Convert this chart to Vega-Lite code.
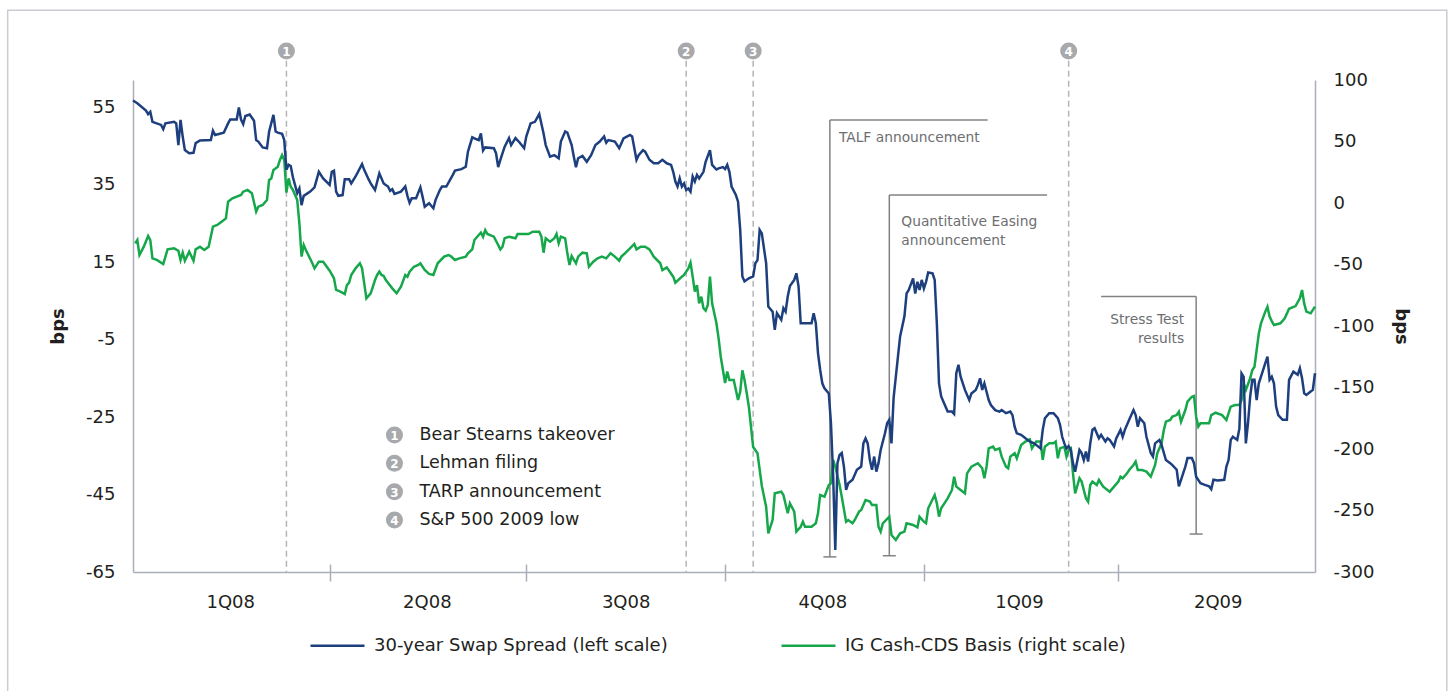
{
"$schema":"https://vega.github.io/schema/vega-lite/v6.json",
"width":1182,"height":492,
"autosize":{"type":"none"},
"padding":{"left":133,"top":80,"right":133,"bottom":119},
"background":"white",
"config":{"view":{"stroke":null},"font":"DejaVu Sans",
"axis":{"labelFont":"DejaVu Sans","labelFontSize":18,"labelColor":"#231f20","domainColor":"#a9afb8","domainWidth":1.5,"grid":false,"ticks":false,"titleFont":"DejaVu Sans","titleFontSize":18,"titleFontWeight":"bold","titleColor":"#231f20"},
"text":{"font":"DejaVu Sans"}},
"datasets":{
"events":[{"date":"2008-03-12","num":1,"label":"Bear Stearns takeover"},{"date":"2008-09-13","num":2,"label":"Lehman filing"},{"date":"2008-10-14","num":3,"label":"TARP announcement"},{"date":"2009-03-09","num":4,"label":"S&P 500 2009 low"}],
"swap":[{"date":"2008-01-01","value":56.7},{"date":"2008-01-03","value":56.0},{"date":"2008-01-07","value":54.1},{"date":"2008-01-08","value":53.2},{"date":"2008-01-09","value":53.8},{"date":"2008-01-10","value":51.2},{"date":"2008-01-11","value":51.0},{"date":"2008-01-14","value":50.4},{"date":"2008-01-15","value":49.3},{"date":"2008-01-16","value":50.8},{"date":"2008-01-20","value":51.2},{"date":"2008-01-21","value":50.8},{"date":"2008-01-22","value":45.2},{"date":"2008-01-23","value":51.7},{"date":"2008-01-24","value":47.4},{"date":"2008-01-25","value":43.9},{"date":"2008-01-27","value":43.1},{"date":"2008-01-29","value":43.2},{"date":"2008-01-30","value":45.7},{"date":"2008-02-01","value":46.4},{"date":"2008-02-06","value":46.5},{"date":"2008-02-07","value":48.9},{"date":"2008-02-08","value":47.8},{"date":"2008-02-12","value":48.4},{"date":"2008-02-14","value":50.8},{"date":"2008-02-15","value":51.8},{"date":"2008-02-18","value":51.8},{"date":"2008-02-19","value":54.9},{"date":"2008-02-20","value":51.8},{"date":"2008-02-21","value":50.6},{"date":"2008-02-22","value":52.7},{"date":"2008-02-24","value":53.1},{"date":"2008-02-26","value":51.5},{"date":"2008-02-27","value":46.5},{"date":"2008-02-28","value":46.1},{"date":"2008-03-01","value":44.6},{"date":"2008-03-03","value":44.4},{"date":"2008-03-04","value":48.7},{"date":"2008-03-06","value":53.0},{"date":"2008-03-07","value":48.7},{"date":"2008-03-08","value":48.4},{"date":"2008-03-10","value":48.1},{"date":"2008-03-11","value":46.5},{"date":"2008-03-12","value":38.8},{"date":"2008-03-13","value":40.1},{"date":"2008-03-14","value":39.8},{"date":"2008-03-15","value":36.9},{"date":"2008-03-17","value":32.8},{"date":"2008-03-18","value":34.0},{"date":"2008-03-19","value":29.7},{"date":"2008-03-20","value":32.1},{"date":"2008-03-23","value":33.2},{"date":"2008-03-25","value":34.3},{"date":"2008-03-27","value":38.3},{"date":"2008-03-29","value":36.6},{"date":"2008-04-01","value":34.9},{"date":"2008-04-02","value":38.3},{"date":"2008-04-03","value":38.6},{"date":"2008-04-04","value":33.2},{"date":"2008-04-05","value":32.1},{"date":"2008-04-07","value":32.3},{"date":"2008-04-08","value":36.4},{"date":"2008-04-10","value":36.4},{"date":"2008-04-11","value":35.3},{"date":"2008-04-13","value":37.1},{"date":"2008-04-16","value":40.3},{"date":"2008-04-17","value":38.8},{"date":"2008-04-19","value":36.4},{"date":"2008-04-20","value":35.3},{"date":"2008-04-22","value":33.6},{"date":"2008-04-24","value":37.9},{"date":"2008-04-26","value":35.3},{"date":"2008-04-28","value":34.5},{"date":"2008-04-29","value":33.4},{"date":"2008-04-30","value":33.8},{"date":"2008-05-01","value":32.6},{"date":"2008-05-04","value":33.2},{"date":"2008-05-06","value":34.5},{"date":"2008-05-07","value":32.1},{"date":"2008-05-08","value":30.3},{"date":"2008-05-09","value":31.5},{"date":"2008-05-11","value":31.5},{"date":"2008-05-13","value":34.3},{"date":"2008-05-14","value":31.9},{"date":"2008-05-15","value":29.3},{"date":"2008-05-17","value":30.2},{"date":"2008-05-19","value":28.9},{"date":"2008-05-20","value":31.0},{"date":"2008-05-22","value":33.6},{"date":"2008-05-23","value":34.5},{"date":"2008-05-25","value":34.5},{"date":"2008-05-28","value":37.5},{"date":"2008-05-29","value":38.6},{"date":"2008-06-01","value":39.0},{"date":"2008-06-03","value":39.6},{"date":"2008-06-04","value":43.5},{"date":"2008-06-06","value":47.2},{"date":"2008-06-08","value":46.7},{"date":"2008-06-09","value":46.5},{"date":"2008-06-10","value":48.2},{"date":"2008-06-11","value":43.8},{"date":"2008-06-12","value":44.6},{"date":"2008-06-16","value":44.4},{"date":"2008-06-17","value":43.1},{"date":"2008-06-18","value":39.5},{"date":"2008-06-19","value":41.4},{"date":"2008-06-21","value":44.8},{"date":"2008-06-23","value":47.0},{"date":"2008-06-24","value":45.2},{"date":"2008-06-26","value":47.0},{"date":"2008-06-28","value":45.8},{"date":"2008-06-30","value":44.4},{"date":"2008-07-01","value":47.4},{"date":"2008-07-03","value":50.8},{"date":"2008-07-05","value":51.2},{"date":"2008-07-07","value":53.2},{"date":"2008-07-09","value":48.2},{"date":"2008-07-10","value":45.2},{"date":"2008-07-12","value":42.2},{"date":"2008-07-14","value":42.6},{"date":"2008-07-16","value":41.8},{"date":"2008-07-17","value":46.1},{"date":"2008-07-19","value":48.7},{"date":"2008-07-20","value":48.4},{"date":"2008-07-22","value":45.2},{"date":"2008-07-23","value":42.2},{"date":"2008-07-24","value":39.5},{"date":"2008-07-25","value":41.8},{"date":"2008-07-27","value":42.4},{"date":"2008-07-29","value":40.9},{"date":"2008-07-31","value":42.6},{"date":"2008-08-02","value":45.2},{"date":"2008-08-04","value":46.1},{"date":"2008-08-06","value":47.4},{"date":"2008-08-07","value":45.8},{"date":"2008-08-08","value":46.5},{"date":"2008-08-11","value":46.1},{"date":"2008-08-13","value":44.4},{"date":"2008-08-15","value":46.9},{"date":"2008-08-18","value":47.8},{"date":"2008-08-19","value":47.4},{"date":"2008-08-21","value":41.4},{"date":"2008-08-22","value":42.6},{"date":"2008-08-24","value":43.9},{"date":"2008-08-25","value":43.5},{"date":"2008-08-27","value":41.4},{"date":"2008-08-29","value":40.5},{"date":"2008-08-31","value":40.5},{"date":"2008-09-02","value":41.4},{"date":"2008-09-04","value":40.5},{"date":"2008-09-06","value":40.1},{"date":"2008-09-07","value":38.3},{"date":"2008-09-08","value":35.8},{"date":"2008-09-09","value":34.5},{"date":"2008-09-10","value":36.6},{"date":"2008-09-11","value":34.5},{"date":"2008-09-12","value":35.3},{"date":"2008-09-13","value":33.6},{"date":"2008-09-14","value":34.0},{"date":"2008-09-15","value":33.2},{"date":"2008-09-16","value":37.1},{"date":"2008-09-17","value":35.8},{"date":"2008-09-18","value":37.5},{"date":"2008-09-19","value":36.6},{"date":"2008-09-21","value":38.3},{"date":"2008-09-22","value":40.9},{"date":"2008-09-24","value":43.9},{"date":"2008-09-25","value":40.1},{"date":"2008-09-27","value":38.9},{"date":"2008-09-28","value":39.2},{"date":"2008-09-30","value":39.5},{"date":"2008-10-01","value":39.0},{"date":"2008-10-02","value":40.1},{"date":"2008-10-03","value":38.3},{"date":"2008-10-04","value":34.5},{"date":"2008-10-06","value":32.3},{"date":"2008-10-07","value":30.6},{"date":"2008-10-08","value":23.3},{"date":"2008-10-09","value":11.3},{"date":"2008-10-10","value":10.0},{"date":"2008-10-12","value":10.8},{"date":"2008-10-14","value":11.3},{"date":"2008-10-15","value":14.7},{"date":"2008-10-16","value":15.5},{"date":"2008-10-17","value":23.3},{"date":"2008-10-18","value":22.4},{"date":"2008-10-20","value":14.7},{"date":"2008-10-21","value":3.5},{"date":"2008-10-23","value":2.2},{"date":"2008-10-24","value":-2.5},{"date":"2008-10-25","value":1.8},{"date":"2008-10-27","value":0.1},{"date":"2008-10-28","value":3.1},{"date":"2008-10-29","value":2.2},{"date":"2008-10-30","value":6.1},{"date":"2008-10-31","value":8.8},{"date":"2008-11-02","value":10.4},{"date":"2008-11-03","value":12.1},{"date":"2008-11-04","value":8.7},{"date":"2008-11-05","value":-0.8},{"date":"2008-11-08","value":-0.8},{"date":"2008-11-10","value":-0.8},{"date":"2008-11-11","value":1.8},{"date":"2008-11-12","value":-0.8},{"date":"2008-11-13","value":-8.5},{"date":"2008-11-14","value":-12.8},{"date":"2008-11-15","value":-16.3},{"date":"2008-11-16","value":-17.6},{"date":"2008-11-18","value":-18.9},{"date":"2008-11-19","value":-26.6},{"date":"2008-11-20","value":-40.0},{"date":"2008-11-21","value":-59.3},{"date":"2008-11-22","value":-36.9},{"date":"2008-11-23","value":-34.8},{"date":"2008-11-24","value":-34.3},{"date":"2008-11-25","value":-37.8},{"date":"2008-11-26","value":-43.8},{"date":"2008-11-27","value":-42.1},{"date":"2008-11-29","value":-41.2},{"date":"2008-12-01","value":-38.6},{"date":"2008-12-03","value":-37.8},{"date":"2008-12-04","value":-31.8},{"date":"2008-12-05","value":-30.5},{"date":"2008-12-06","value":-31.8},{"date":"2008-12-07","value":-36.1},{"date":"2008-12-08","value":-38.6},{"date":"2008-12-09","value":-35.2},{"date":"2008-12-10","value":-39.1},{"date":"2008-12-11","value":-36.9},{"date":"2008-12-12","value":-33.5},{"date":"2008-12-14","value":-29.2},{"date":"2008-12-15","value":-26.6},{"date":"2008-12-16","value":-25.7},{"date":"2008-12-17","value":-31.8},{"date":"2008-12-18","value":-20.0},{"date":"2008-12-20","value":-9.4},{"date":"2008-12-21","value":-4.2},{"date":"2008-12-23","value":1.0},{"date":"2008-12-24","value":6.9},{"date":"2008-12-25","value":7.8},{"date":"2008-12-27","value":10.8},{"date":"2008-12-28","value":6.9},{"date":"2008-12-29","value":9.9},{"date":"2008-12-30","value":7.8},{"date":"2008-12-31","value":10.4},{"date":"2009-01-01","value":8.2},{"date":"2009-01-02","value":9.9},{"date":"2009-01-03","value":12.3},{"date":"2009-01-05","value":12.1},{"date":"2009-01-06","value":10.4},{"date":"2009-01-07","value":-0.8},{"date":"2009-01-08","value":-16.3},{"date":"2009-01-09","value":-19.7},{"date":"2009-01-11","value":-22.3},{"date":"2009-01-12","value":-23.6},{"date":"2009-01-14","value":-23.6},{"date":"2009-01-15","value":-24.2},{"date":"2009-01-16","value":-13.7},{"date":"2009-01-17","value":-11.5},{"date":"2009-01-18","value":-14.6},{"date":"2009-01-20","value":-18.0},{"date":"2009-01-22","value":-20.6},{"date":"2009-01-23","value":-18.9},{"date":"2009-01-25","value":-18.0},{"date":"2009-01-26","value":-16.7},{"date":"2009-01-27","value":-15.0},{"date":"2009-01-28","value":-18.0},{"date":"2009-01-29","value":-16.3},{"date":"2009-01-31","value":-20.6},{"date":"2009-02-01","value":-21.9},{"date":"2009-02-03","value":-23.2},{"date":"2009-02-05","value":-23.6},{"date":"2009-02-06","value":-23.2},{"date":"2009-02-08","value":-24.0},{"date":"2009-02-10","value":-23.6},{"date":"2009-02-11","value":-24.5},{"date":"2009-02-12","value":-27.5},{"date":"2009-02-13","value":-29.2},{"date":"2009-02-15","value":-29.6},{"date":"2009-02-17","value":-30.5},{"date":"2009-02-19","value":-31.3},{"date":"2009-02-21","value":-31.8},{"date":"2009-02-24","value":-33.1},{"date":"2009-02-25","value":-28.3},{"date":"2009-02-26","value":-25.3},{"date":"2009-02-28","value":-24.0},{"date":"2009-03-02","value":-24.0},{"date":"2009-03-04","value":-25.3},{"date":"2009-03-05","value":-27.0},{"date":"2009-03-06","value":-30.1},{"date":"2009-03-07","value":-31.8},{"date":"2009-03-08","value":-33.1},{"date":"2009-03-09","value":-32.5},{"date":"2009-03-10","value":-33.5},{"date":"2009-03-11","value":-36.9},{"date":"2009-03-12","value":-39.1},{"date":"2009-03-14","value":-33.5},{"date":"2009-03-15","value":-34.3},{"date":"2009-03-16","value":-36.1},{"date":"2009-03-17","value":-33.9},{"date":"2009-03-18","value":-36.5},{"date":"2009-03-19","value":-31.8},{"date":"2009-03-20","value":-28.3},{"date":"2009-03-21","value":-27.9},{"date":"2009-03-23","value":-30.5},{"date":"2009-03-24","value":-29.6},{"date":"2009-03-26","value":-31.3},{"date":"2009-03-27","value":-30.5},{"date":"2009-03-28","value":-30.9},{"date":"2009-03-30","value":-32.6},{"date":"2009-03-31","value":-30.5},{"date":"2009-04-02","value":-28.3},{"date":"2009-04-03","value":-30.1},{"date":"2009-04-04","value":-28.3},{"date":"2009-04-06","value":-25.7},{"date":"2009-04-08","value":-23.2},{"date":"2009-04-09","value":-24.5},{"date":"2009-04-10","value":-27.5},{"date":"2009-04-11","value":-25.3},{"date":"2009-04-13","value":-26.6},{"date":"2009-04-14","value":-30.1},{"date":"2009-04-16","value":-34.3},{"date":"2009-04-17","value":-35.2},{"date":"2009-04-18","value":-31.8},{"date":"2009-04-20","value":-30.9},{"date":"2009-04-21","value":-32.2},{"date":"2009-04-23","value":-36.1},{"date":"2009-04-25","value":-36.9},{"date":"2009-04-26","value":-37.4},{"date":"2009-04-28","value":-38.6},{"date":"2009-04-29","value":-42.9},{"date":"2009-04-30","value":-41.2},{"date":"2009-05-02","value":-37.8},{"date":"2009-05-03","value":-35.6},{"date":"2009-05-05","value":-35.6},{"date":"2009-05-06","value":-36.9},{"date":"2009-05-07","value":-40.4},{"date":"2009-05-09","value":-42.1},{"date":"2009-05-11","value":-42.5},{"date":"2009-05-13","value":-42.9},{"date":"2009-05-14","value":-43.6},{"date":"2009-05-15","value":-41.2},{"date":"2009-05-17","value":-41.4},{"date":"2009-05-20","value":-41.2},{"date":"2009-05-21","value":-37.8},{"date":"2009-05-22","value":-36.1},{"date":"2009-05-23","value":-30.9},{"date":"2009-05-24","value":-30.1},{"date":"2009-05-26","value":-30.9},{"date":"2009-05-27","value":-28.0},{"date":"2009-05-28","value":-13.7},{"date":"2009-05-29","value":-14.6},{"date":"2009-05-30","value":-31.8},{"date":"2009-05-31","value":-26.6},{"date":"2009-06-01","value":-19.7},{"date":"2009-06-02","value":-15.4},{"date":"2009-06-03","value":-15.4},{"date":"2009-06-04","value":-20.6},{"date":"2009-06-05","value":-16.3},{"date":"2009-06-07","value":-12.8},{"date":"2009-06-08","value":-11.1},{"date":"2009-06-09","value":-9.4},{"date":"2009-06-10","value":-15.4},{"date":"2009-06-11","value":-14.6},{"date":"2009-06-12","value":-16.3},{"date":"2009-06-13","value":-22.3},{"date":"2009-06-14","value":-24.5},{"date":"2009-06-16","value":-25.7},{"date":"2009-06-18","value":-25.7},{"date":"2009-06-19","value":-15.4},{"date":"2009-06-21","value":-13.3},{"date":"2009-06-23","value":-14.1},{"date":"2009-06-24","value":-12.4},{"date":"2009-06-25","value":-15.0},{"date":"2009-06-26","value":-18.9},{"date":"2009-06-27","value":-19.3},{"date":"2009-06-29","value":-18.4},{"date":"2009-06-30","value":-18.0},{"date":"2009-07-01","value":-13.7}],
"basis":[{"date":"2008-01-02","value":-32.8},{"date":"2008-01-03","value":-30.1},{"date":"2008-01-04","value":-42.3},{"date":"2008-01-06","value":-35.5},{"date":"2008-01-08","value":-26.8},{"date":"2008-01-09","value":-30.1},{"date":"2008-01-10","value":-45.0},{"date":"2008-01-12","value":-46.3},{"date":"2008-01-15","value":-49.6},{"date":"2008-01-17","value":-37.7},{"date":"2008-01-20","value":-36.9},{"date":"2008-01-22","value":-38.8},{"date":"2008-01-23","value":-46.3},{"date":"2008-01-24","value":-40.4},{"date":"2008-01-25","value":-46.9},{"date":"2008-01-27","value":-39.6},{"date":"2008-01-29","value":-46.9},{"date":"2008-01-30","value":-37.7},{"date":"2008-02-01","value":-35.5},{"date":"2008-02-03","value":-38.2},{"date":"2008-02-05","value":-35.5},{"date":"2008-02-07","value":-19.2},{"date":"2008-02-09","value":-17.9},{"date":"2008-02-11","value":-15.2},{"date":"2008-02-13","value":-12.5},{"date":"2008-02-14","value":1.1},{"date":"2008-02-16","value":3.8},{"date":"2008-02-20","value":6.5},{"date":"2008-02-21","value":9.2},{"date":"2008-02-23","value":10.6},{"date":"2008-02-25","value":7.9},{"date":"2008-02-27","value":-7.0},{"date":"2008-02-28","value":-3.0},{"date":"2008-03-01","value":-1.6},{"date":"2008-03-03","value":2.4},{"date":"2008-03-04","value":18.7},{"date":"2008-03-05","value":20.0},{"date":"2008-03-06","value":26.8},{"date":"2008-03-08","value":29.5},{"date":"2008-03-09","value":35.0},{"date":"2008-03-10","value":39.0},{"date":"2008-03-11","value":35.0},{"date":"2008-03-12","value":8.5},{"date":"2008-03-13","value":20.0},{"date":"2008-03-14","value":13.3},{"date":"2008-03-15","value":10.6},{"date":"2008-03-17","value":2.4},{"date":"2008-03-18","value":-16.5},{"date":"2008-03-19","value":-43.6},{"date":"2008-03-20","value":-34.1},{"date":"2008-03-21","value":-38.2},{"date":"2008-03-24","value":-49.0},{"date":"2008-03-25","value":-53.1},{"date":"2008-03-27","value":-47.7},{"date":"2008-03-29","value":-47.7},{"date":"2008-04-01","value":-55.0},{"date":"2008-04-02","value":-58.0},{"date":"2008-04-03","value":-61.2},{"date":"2008-04-04","value":-70.7},{"date":"2008-04-06","value":-72.1},{"date":"2008-04-08","value":-74.0},{"date":"2008-04-09","value":-66.7},{"date":"2008-04-10","value":-64.8},{"date":"2008-04-11","value":-58.5},{"date":"2008-04-13","value":-53.1},{"date":"2008-04-15","value":-49.0},{"date":"2008-04-16","value":-53.1},{"date":"2008-04-17","value":-65.3},{"date":"2008-04-18","value":-77.5},{"date":"2008-04-20","value":-73.4},{"date":"2008-04-22","value":-62.6},{"date":"2008-04-23","value":-58.5},{"date":"2008-04-24","value":-55.8},{"date":"2008-04-25","value":-58.5},{"date":"2008-04-26","value":-59.3},{"date":"2008-04-27","value":-62.6},{"date":"2008-04-30","value":-69.4},{"date":"2008-05-02","value":-73.4},{"date":"2008-05-04","value":-68.0},{"date":"2008-05-06","value":-58.5},{"date":"2008-05-07","value":-59.9},{"date":"2008-05-08","value":-55.8},{"date":"2008-05-10","value":-51.8},{"date":"2008-05-12","value":-50.4},{"date":"2008-05-13","value":-49.0},{"date":"2008-05-15","value":-54.5},{"date":"2008-05-17","value":-57.7},{"date":"2008-05-19","value":-58.5},{"date":"2008-05-21","value":-49.0},{"date":"2008-05-24","value":-43.6},{"date":"2008-05-26","value":-42.3},{"date":"2008-05-27","value":-43.1},{"date":"2008-05-29","value":-46.3},{"date":"2008-05-31","value":-45.0},{"date":"2008-06-03","value":-43.6},{"date":"2008-06-04","value":-40.9},{"date":"2008-06-06","value":-37.7},{"date":"2008-06-07","value":-30.1},{"date":"2008-06-09","value":-26.0},{"date":"2008-06-10","value":-24.1},{"date":"2008-06-11","value":-27.4},{"date":"2008-06-12","value":-22.0},{"date":"2008-06-13","value":-25.2},{"date":"2008-06-16","value":-27.4},{"date":"2008-06-18","value":-34.1},{"date":"2008-06-19","value":-37.7},{"date":"2008-06-20","value":-35.5},{"date":"2008-06-21","value":-28.7},{"date":"2008-06-23","value":-27.4},{"date":"2008-06-26","value":-28.7},{"date":"2008-06-27","value":-25.2},{"date":"2008-06-30","value":-25.2},{"date":"2008-07-02","value":-25.2},{"date":"2008-07-04","value":-23.3},{"date":"2008-07-07","value":-23.3},{"date":"2008-07-08","value":-27.4},{"date":"2008-07-09","value":-40.4},{"date":"2008-07-10","value":-28.7},{"date":"2008-07-12","value":-31.4},{"date":"2008-07-14","value":-28.7},{"date":"2008-07-15","value":-25.2},{"date":"2008-07-16","value":-32.8},{"date":"2008-07-17","value":-27.4},{"date":"2008-07-19","value":-28.7},{"date":"2008-07-20","value":-40.9},{"date":"2008-07-21","value":-50.4},{"date":"2008-07-22","value":-43.1},{"date":"2008-07-24","value":-49.0},{"date":"2008-07-25","value":-43.6},{"date":"2008-07-27","value":-40.4},{"date":"2008-07-29","value":-40.9},{"date":"2008-07-30","value":-51.8},{"date":"2008-08-01","value":-47.7},{"date":"2008-08-03","value":-45.0},{"date":"2008-08-05","value":-43.6},{"date":"2008-08-07","value":-45.0},{"date":"2008-08-09","value":-40.9},{"date":"2008-08-11","value":-43.6},{"date":"2008-08-13","value":-46.9},{"date":"2008-08-14","value":-43.6},{"date":"2008-08-16","value":-40.4},{"date":"2008-08-18","value":-36.9},{"date":"2008-08-20","value":-33.3},{"date":"2008-08-21","value":-37.7},{"date":"2008-08-23","value":-35.5},{"date":"2008-08-25","value":-35.5},{"date":"2008-08-27","value":-37.7},{"date":"2008-08-29","value":-43.6},{"date":"2008-09-01","value":-49.0},{"date":"2008-09-02","value":-54.5},{"date":"2008-09-04","value":-52.3},{"date":"2008-09-07","value":-59.9},{"date":"2008-09-08","value":-64.8},{"date":"2008-09-11","value":-59.9},{"date":"2008-09-12","value":-58.5},{"date":"2008-09-14","value":-53.1},{"date":"2008-09-15","value":-48.5},{"date":"2008-09-16","value":-59.9},{"date":"2008-09-17","value":-72.1},{"date":"2008-09-18","value":-66.7},{"date":"2008-09-19","value":-81.6},{"date":"2008-09-20","value":-76.2},{"date":"2008-09-21","value":-85.6},{"date":"2008-09-22","value":-87.5},{"date":"2008-09-23","value":-82.9},{"date":"2008-09-24","value":-59.9},{"date":"2008-09-25","value":-81.6},{"date":"2008-09-27","value":-97.8},{"date":"2008-09-28","value":-110.0},{"date":"2008-09-29","value":-125.0},{"date":"2008-10-01","value":-146.3},{"date":"2008-10-02","value":-137.0},{"date":"2008-10-03","value":-143.9},{"date":"2008-10-05","value":-143.9},{"date":"2008-10-07","value":-160.2},{"date":"2008-10-08","value":-153.4},{"date":"2008-10-09","value":-136.0},{"date":"2008-10-10","value":-143.9},{"date":"2008-10-11","value":-154.5},{"date":"2008-10-12","value":-165.6},{"date":"2008-10-14","value":-198.4},{"date":"2008-10-16","value":-203.5},{"date":"2008-10-18","value":-230.0},{"date":"2008-10-20","value":-246.9},{"date":"2008-10-21","value":-268.6},{"date":"2008-10-23","value":-257.7},{"date":"2008-10-24","value":-236.0},{"date":"2008-10-27","value":-234.7},{"date":"2008-10-28","value":-237.4},{"date":"2008-10-30","value":-252.3},{"date":"2008-10-31","value":-244.2},{"date":"2008-11-02","value":-250.9},{"date":"2008-11-03","value":-267.2},{"date":"2008-11-05","value":-263.2},{"date":"2008-11-06","value":-259.1},{"date":"2008-11-07","value":-263.2},{"date":"2008-11-10","value":-263.2},{"date":"2008-11-12","value":-260.4},{"date":"2008-11-13","value":-252.3},{"date":"2008-11-14","value":-237.4},{"date":"2008-11-16","value":-238.8},{"date":"2008-11-18","value":-229.3},{"date":"2008-11-19","value":-227.9},{"date":"2008-11-20","value":-208.9},{"date":"2008-11-21","value":-214.4},{"date":"2008-11-23","value":-229.3},{"date":"2008-11-24","value":-238.8},{"date":"2008-11-26","value":-259.1},{"date":"2008-11-27","value":-257.7},{"date":"2008-11-29","value":-260.4},{"date":"2008-11-30","value":-257.7},{"date":"2008-12-02","value":-250.9},{"date":"2008-12-03","value":-249.6},{"date":"2008-12-05","value":-241.5},{"date":"2008-12-07","value":-242.8},{"date":"2008-12-08","value":-245.5},{"date":"2008-12-10","value":-245.5},{"date":"2008-12-11","value":-263.2},{"date":"2008-12-12","value":-267.2},{"date":"2008-12-13","value":-260.4},{"date":"2008-12-16","value":-255.0},{"date":"2008-12-17","value":-269.9},{"date":"2008-12-19","value":-274.0},{"date":"2008-12-21","value":-268.6},{"date":"2008-12-23","value":-267.2},{"date":"2008-12-24","value":-260.4},{"date":"2008-12-27","value":-261.8},{"date":"2008-12-29","value":-263.7},{"date":"2008-12-30","value":-255.0},{"date":"2009-01-01","value":-259.1},{"date":"2009-01-02","value":-260.4},{"date":"2009-01-03","value":-248.2},{"date":"2009-01-06","value":-237.4},{"date":"2009-01-07","value":-244.2},{"date":"2009-01-08","value":-255.0},{"date":"2009-01-09","value":-248.2},{"date":"2009-01-12","value":-240.1},{"date":"2009-01-14","value":-233.3},{"date":"2009-01-15","value":-222.5},{"date":"2009-01-16","value":-230.6},{"date":"2009-01-18","value":-233.3},{"date":"2009-01-20","value":-236.0},{"date":"2009-01-21","value":-219.8},{"date":"2009-01-23","value":-214.4},{"date":"2009-01-26","value":-211.6},{"date":"2009-01-28","value":-215.7},{"date":"2009-01-29","value":-223.8},{"date":"2009-01-30","value":-214.4},{"date":"2009-01-31","value":-199.5},{"date":"2009-02-02","value":-198.1},{"date":"2009-02-03","value":-200.8},{"date":"2009-02-05","value":-199.5},{"date":"2009-02-06","value":-206.2},{"date":"2009-02-08","value":-214.4},{"date":"2009-02-09","value":-215.7},{"date":"2009-02-10","value":-206.2},{"date":"2009-02-12","value":-203.5},{"date":"2009-02-13","value":-207.6},{"date":"2009-02-14","value":-202.2},{"date":"2009-02-15","value":-196.8},{"date":"2009-02-17","value":-194.0},{"date":"2009-02-19","value":-192.1},{"date":"2009-02-20","value":-199.5},{"date":"2009-02-22","value":-194.0},{"date":"2009-02-24","value":-194.0},{"date":"2009-02-25","value":-208.9},{"date":"2009-02-26","value":-198.1},{"date":"2009-02-28","value":-195.4},{"date":"2009-03-02","value":-195.4},{"date":"2009-03-03","value":-194.0},{"date":"2009-03-04","value":-207.6},{"date":"2009-03-05","value":-199.5},{"date":"2009-03-07","value":-198.1},{"date":"2009-03-08","value":-206.2},{"date":"2009-03-09","value":-200.8},{"date":"2009-03-10","value":-199.5},{"date":"2009-03-11","value":-219.8},{"date":"2009-03-12","value":-236.0},{"date":"2009-03-14","value":-223.8},{"date":"2009-03-15","value":-226.5},{"date":"2009-03-17","value":-240.1},{"date":"2009-03-18","value":-242.8},{"date":"2009-03-19","value":-229.3},{"date":"2009-03-20","value":-226.5},{"date":"2009-03-22","value":-229.3},{"date":"2009-03-23","value":-225.2},{"date":"2009-03-25","value":-230.6},{"date":"2009-03-28","value":-234.7},{"date":"2009-03-30","value":-230.6},{"date":"2009-04-01","value":-226.5},{"date":"2009-04-02","value":-222.5},{"date":"2009-04-03","value":-223.8},{"date":"2009-04-05","value":-219.8},{"date":"2009-04-06","value":-217.1},{"date":"2009-04-08","value":-213.0},{"date":"2009-04-09","value":-210.3},{"date":"2009-04-10","value":-217.1},{"date":"2009-04-12","value":-217.1},{"date":"2009-04-14","value":-218.4},{"date":"2009-04-16","value":-222.5},{"date":"2009-04-18","value":-213.0},{"date":"2009-04-19","value":-203.5},{"date":"2009-04-21","value":-195.4},{"date":"2009-04-22","value":-185.0},{"date":"2009-04-23","value":-177.8},{"date":"2009-04-25","value":-176.4},{"date":"2009-04-26","value":-173.7},{"date":"2009-04-28","value":-172.4},{"date":"2009-04-29","value":-169.7},{"date":"2009-04-30","value":-177.8},{"date":"2009-05-02","value":-168.3},{"date":"2009-05-03","value":-161.5},{"date":"2009-05-05","value":-157.5},{"date":"2009-05-06","value":-156.9},{"date":"2009-05-07","value":-173.7},{"date":"2009-05-08","value":-181.8},{"date":"2009-05-09","value":-179.1},{"date":"2009-05-11","value":-179.1},{"date":"2009-05-13","value":-179.1},{"date":"2009-05-14","value":-172.4},{"date":"2009-05-16","value":-170.5},{"date":"2009-05-19","value":-172.4},{"date":"2009-05-21","value":-176.4},{"date":"2009-05-23","value":-165.6},{"date":"2009-05-25","value":-164.2},{"date":"2009-05-27","value":-164.2},{"date":"2009-05-28","value":-160.2},{"date":"2009-05-29","value":-146.6},{"date":"2009-05-30","value":-152.0},{"date":"2009-06-01","value":-142.5},{"date":"2009-06-02","value":-135.8},{"date":"2009-06-03","value":-133.1},{"date":"2009-06-04","value":-119.5},{"date":"2009-06-05","value":-106.0},{"date":"2009-06-06","value":-97.8},{"date":"2009-06-08","value":-88.3},{"date":"2009-06-09","value":-84.3},{"date":"2009-06-10","value":-92.4},{"date":"2009-06-11","value":-96.0},{"date":"2009-06-12","value":-99.2},{"date":"2009-06-15","value":-97.8},{"date":"2009-06-17","value":-93.8},{"date":"2009-06-19","value":-86.0},{"date":"2009-06-22","value":-83.8},{"date":"2009-06-24","value":-77.5},{"date":"2009-06-25","value":-70.7},{"date":"2009-06-26","value":-81.6},{"date":"2009-06-27","value":-88.3},{"date":"2009-06-29","value":-89.7},{"date":"2009-07-01","value":-84.3}]
},
"layer":[
{"data":{"values":[{"part":"frame"}]},"mark":{"type":"rect","fillOpacity":0,"stroke":"#c9cdd3","strokeWidth":1.5},
 "encoding":{"x":{"datum":{"year":2007,"month":11,"date":4},"type":"temporal","axis":null},"x2":{"datum":{"year":2009,"month":8,"date":31}},
 "y":{"datum":80,"type":"quantitative","scale":{"domain":[-65,62]},"axis":null},"y2":{"datum":-120}}},
{"data":{"name":"events"},"mark":{"type":"rule","color":"#b3b5b8","strokeWidth":1.5,"strokeDash":[6,4]},
 "encoding":{"x":{"field":"date","type":"temporal","axis":null},"y":{"datum":67,"type":"quantitative","scale":{"domain":[-65,62]},"axis":null},"y2":{"datum":-65}}},
{"data":{"name":"events"},"mark":{"type":"circle","size":290,"color":"#a7a9ac","opacity":1},
 "encoding":{"x":{"field":"date","type":"temporal","axis":null},"y":{"datum":69.5,"type":"quantitative","scale":{"domain":[-65,62]},"axis":null}}},
{"data":{"name":"events"},"mark":{"type":"text","color":"white","fontWeight":"bold","fontSize":12,"baseline":"middle","align":"center","dy":1},
 "encoding":{"x":{"field":"date","type":"temporal","axis":null},"y":{"datum":69.5,"type":"quantitative","scale":{"domain":[-65,62]},"axis":null},"text":{"field":"num"}}},
{"data":{"name":"events"},"mark":{"type":"circle","size":290,"color":"#a7a9ac","opacity":1},
 "encoding":{"x":{"datum":{"year":2008,"month":5,"date":1},"type":"temporal","axis":null},"y":{"field":"num","type":"quantitative","scale":{"domain":[1,4],"range":[355,440]},"axis":null}}},
{"data":{"name":"events"},"mark":{"type":"text","color":"white","fontWeight":"bold","fontSize":12,"baseline":"middle","align":"center","dy":1},
 "encoding":{"x":{"datum":{"year":2008,"month":5,"date":1},"type":"temporal","axis":null},"y":{"field":"num","type":"quantitative","scale":{"domain":[1,4],"range":[355,440]},"axis":null},"text":{"field":"num"}}},
{"data":{"name":"events"},"mark":{"type":"text","color":"#231f20","fontSize":17.5,"baseline":"middle","align":"left","dx":25},
 "encoding":{"x":{"datum":{"year":2008,"month":5,"date":1},"type":"temporal","axis":null},"y":{"field":"num","type":"quantitative","scale":{"domain":[1,4],"range":[355,440]},"axis":null},"text":{"field":"label"}}},
{"data":{"values":[{"note":"TALF announcement"}]},"layer":[
 {"mark":{"type":"rule","color":"#808285","strokeWidth":1.5},"encoding":{"x":{"datum":{"year":2008,"month":11,"date":18,"hours":12},"type":"temporal","axis":null},"y":{"datum":51.7,"type":"quantitative","scale":{"domain":[-65,62]},"axis":null},"y2":{"datum":-61.1}}},
 {"mark":{"type":"rule","color":"#808285","strokeWidth":1.5},"encoding":{"x":{"datum":{"year":2008,"month":11,"date":18,"hours":12},"type":"temporal","axis":null},"x2":{"datum":{"year":2009,"month":1,"date":30,"hours":12}},"y":{"datum":51.7,"type":"quantitative","scale":{"domain":[-65,62]},"axis":null}}},
 {"mark":{"type":"rule","color":"#808285","strokeWidth":1.5},"encoding":{"x":{"datum":{"year":2008,"month":11,"date":15,"hours":12},"type":"temporal","axis":null},"x2":{"datum":{"year":2008,"month":11,"date":21,"hours":12}},"y":{"datum":-61.1,"type":"quantitative","scale":{"domain":[-65,62]},"axis":null}}},
 {"mark":{"type":"text","color":"#6d6e71","fontSize":13.8,"align":"left","baseline":"middle","dx":9},"encoding":{"x":{"datum":{"year":2008,"month":11,"date":18,"hours":12},"type":"temporal","axis":null},"y":{"datum":47.0,"type":"quantitative","scale":{"domain":[-65,62]},"axis":null},"text":{"field":"note"}}}
]},
{"data":{"values":[{"note":"Quantitative Easing announcement"}]},"layer":[
 {"mark":{"type":"rule","color":"#808285","strokeWidth":1.5},"encoding":{"x":{"datum":{"year":2008,"month":12,"date":16},"type":"temporal","axis":null},"y":{"datum":32.3,"type":"quantitative","scale":{"domain":[-65,62]},"axis":null},"y2":{"datum":-60.8}}},
 {"mark":{"type":"rule","color":"#808285","strokeWidth":1.5},"encoding":{"x":{"datum":{"year":2008,"month":12,"date":16},"type":"temporal","axis":null},"x2":{"datum":{"year":2009,"month":2,"date":27}},"y":{"datum":32.3,"type":"quantitative","scale":{"domain":[-65,62]},"axis":null}}},
 {"mark":{"type":"rule","color":"#808285","strokeWidth":1.5},"encoding":{"x":{"datum":{"year":2008,"month":12,"date":13},"type":"temporal","axis":null},"x2":{"datum":{"year":2008,"month":12,"date":19}},"y":{"datum":-60.8,"type":"quantitative","scale":{"domain":[-65,62]},"axis":null}}},
 {"mark":{"type":"text","color":"#6d6e71","fontSize":13.8,"align":"left","baseline":"middle","dx":12,"lineHeight":18.5},"encoding":{"x":{"datum":{"year":2008,"month":12,"date":16},"type":"temporal","axis":null},"y":{"datum":25.25,"type":"quantitative","scale":{"domain":[-65,62]},"axis":null},"text":{"value":["Quantitative Easing","announcement"]}}}
]},
{"data":{"values":[{"note":"Stress Test results"}]},"layer":[
 {"mark":{"type":"rule","color":"#808285","strokeWidth":1.5},"encoding":{"x":{"datum":{"year":2009,"month":5,"date":7},"type":"temporal","axis":null},"y":{"datum":6.1,"type":"quantitative","scale":{"domain":[-65,62]},"axis":null},"y2":{"datum":-55.2}}},
 {"mark":{"type":"rule","color":"#808285","strokeWidth":1.5},"encoding":{"x":{"datum":{"year":2009,"month":3,"date":24},"type":"temporal","axis":null},"x2":{"datum":{"year":2009,"month":5,"date":7}},"y":{"datum":6.1,"type":"quantitative","scale":{"domain":[-65,62]},"axis":null}}},
 {"mark":{"type":"rule","color":"#808285","strokeWidth":1.5},"encoding":{"x":{"datum":{"year":2009,"month":5,"date":4},"type":"temporal","axis":null},"x2":{"datum":{"year":2009,"month":5,"date":10}},"y":{"datum":-55.2,"type":"quantitative","scale":{"domain":[-65,62]},"axis":null}}},
 {"mark":{"type":"text","color":"#6d6e71","fontSize":13.8,"align":"right","baseline":"middle","dx":-12,"lineHeight":19},"encoding":{"x":{"datum":{"year":2009,"month":5,"date":7},"type":"temporal","axis":null},"y":{"datum":0.15,"type":"quantitative","scale":{"domain":[-65,62]},"axis":null},"text":{"value":["Stress Test","results"]}}}
]},
{"data":{"name":"basis"},"mark":{"type":"line","strokeWidth":2.5,"interpolate":"linear"},
 "encoding":{
  "x":{"field":"date","type":"temporal","scale":{"domain":[{"year":2008,"month":1,"date":1},{"year":2009,"month":7,"date":1}]},
   "axis":{"orient":"bottom","values":[{"year":2008,"month":4,"date":1},{"year":2008,"month":7,"date":1},{"year":2008,"month":10,"date":1},{"year":2009,"month":1,"date":1},{"year":2009,"month":4,"date":1}],"labels":false,"domain":false,"ticks":true,"tickSize":17,"tickColor":"#a9afb8","tickWidth":1.5,"offset":-8,"title":null,"grid":false}},
  "y":{"field":"value","type":"quantitative","scale":{"domain":[-300,100],"nice":false,"zero":false},
   "axis":{"orient":"right","values":[-300,-250,-200,-150,-100,-50,0,50,100],"labelExpr":"'' + datum.value","title":"bps","labelPadding":18,"titlePadding":18}},
  "color":{"datum":"IG Cash-CDS Basis (right scale)","type":"nominal"}}},
{"data":{"name":"swap"},"mark":{"type":"line","strokeWidth":2.5,"interpolate":"linear"},
 "encoding":{
  "x":{"field":"date","type":"temporal","scale":{"domain":[{"year":2008,"month":1,"date":1},{"year":2009,"month":7,"date":1}]},
   "axis":{"orient":"bottom","values":[{"year":2008,"month":2,"date":15},{"year":2008,"month":5,"date":16},{"year":2008,"month":8,"date":16},{"year":2008,"month":11,"date":15},{"year":2009,"month":2,"date":14},{"year":2009,"month":5,"date":17}],"labelExpr":"(floor(month(datum.value)/3)+1) + 'Q' + timeFormat(datum.value, '%y')","labelPadding":30,"labelBaseline":"middle","labelFlush":false,"labelOverlap":false,"ticks":false,"tickSize":0,"domain":true,"title":null}},
  "y":{"field":"value","type":"quantitative","scale":{"domain":[-65,62],"nice":false,"zero":false},
   "axis":{"orient":"left","values":[-65,-45,-25,-5,15,35,55],"labelExpr":"'' + datum.value","title":"bps","labelPadding":18,"titlePadding":18}},
  "color":{"datum":"30-year Swap Spread (left scale)","type":"nominal",
   "scale":{"domain":["30-year Swap Spread (left scale)","IG Cash-CDS Basis (right scale)"],"range":["#1d3f7e","#16a74b"]},
   "legend":{"orient":"none","legendX":176,"legendY":537,"direction":"horizontal","title":null,"symbolType":"stroke","symbolSize":2916,"symbolStrokeWidth":2.5,"labelFontSize":18,"labelFont":"DejaVu Sans","labelColor":"#231f20","labelOffset":8,"columnPadding":108,"labelLimit":0}}}}
],
"resolve":{"scale":{"y":"independent"},"axis":{"x":"independent","y":"independent"}}
}
